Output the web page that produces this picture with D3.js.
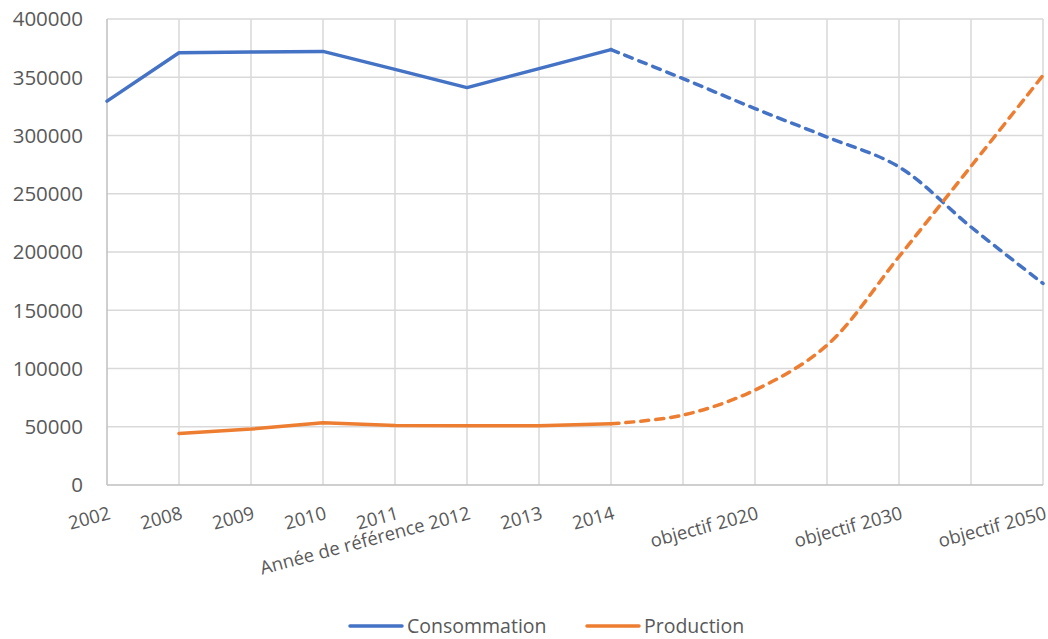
<!DOCTYPE html>
<html>
<head>
<meta charset="utf-8">
<script src="https://cdn.jsdelivr.net/npm/d3@7"></script>
<style>
  body { margin: 0; background: #fff; }
  text { font-family: "Open Sans", sans-serif; fill: #595959; }
</style>
</head>
<body>
<div id="chart"></div>
<script>
// categories (some are left blank in the source)
const categories = ["2002", "2008", "2009", "2010", "2011", "Année de référence 2012", "2013", "2014",
    "", "objectif 2020", "", "objectif 2030", "", "objectif 2050"];

// measured values (index 0..7) then objectives (index 7..13)
const consommation = [329500, 371000, 371700, 372200, 356800, 341100, 357400, 373700,
    348800, 323100, 298700, 273000, 221500, 173000];
const production = [null, 44300, 48000, 53400, 51000, 50900, 50900, 52600,
    60000, 81500, 120000, 196000, 273500, 351600];

const yTicks = [0, 50000, 100000, 150000, 200000, 250000, 300000, 350000, 400000];
const lastMeasured = 7; // 2014

const W = 1048, H = 639;
const margin = {top: 19, right: 5, bottom: 154, left: 107},
    width = W - margin.left - margin.right,
    height = H - margin.top - margin.bottom;

const svg = d3.select("#chart").append("svg")
    .attr("width", W).attr("height", H)
    .append("g")
    .attr("transform", `translate(${margin.left},${margin.top})`);

const x = d3.scalePoint()
    .domain(d3.range(categories.length))
    .range([0, width]);

const y = d3.scaleLinear()
    .domain([0, 400000])
    .range([height, 0]);

// horizontal grid
svg.append("g")
    .selectAll("line")
    .data(yTicks.slice(1))
    .join("line")
    .attr("x1", 0).attr("x2", width)
    .attr("y1", d => y(d)).attr("y2", d => y(d))
    .attr("stroke", "#d9d9d9").attr("stroke-width", 1.5);

// vertical grid
svg.append("g")
    .selectAll("line")
    .data(d3.range(1, categories.length))
    .join("line")
    .attr("x1", d => x(d)).attr("x2", d => x(d))
    .attr("y1", 0).attr("y2", height)
    .attr("stroke", "#d9d9d9").attr("stroke-width", 1.5);

// axis lines
svg.append("line")
    .attr("x1", 0).attr("x2", 0).attr("y1", 0).attr("y2", height)
    .attr("stroke", "#bfbfbf").attr("stroke-width", 1.5);
svg.append("line")
    .attr("x1", 0).attr("x2", width).attr("y1", height).attr("y2", height)
    .attr("stroke", "#bfbfbf").attr("stroke-width", 1.5);

// y axis labels
svg.append("g")
    .selectAll("text")
    .data(yTicks)
    .join("text")
    .attr("x", -24)
    .attr("y", d => y(d))
    .attr("dy", "0.36em")
    .attr("text-anchor", "end")
    .style("font-size", "20.5px")
    .text(d => d);

// x axis labels, rotated
svg.append("g")
    .selectAll("text")
    .data(d3.range(categories.length))
    .join("text")
    .attr("transform", i => `translate(${x(i) + 1},${height + 21}) rotate(-15)`)
    .attr("dy", "0.71em")
    .attr("text-anchor", "end")
    .style("font-size", "18.5px")
    .text(i => categories[i]);

const series = [
    {name: "Consommation", values: consommation, color: "#4472c4"},
    {name: "Production", values: production, color: "#ed7d31"}
];

const solid = d3.line()
    .defined(d => d[1] !== null)
    .x(d => x(d[0])).y(d => y(d[1]));
const dashed = d3.line()
    .x(d => x(d[0])).y(d => y(d[1]))
    .curve(d3.curveCatmullRom);

series.forEach(s => {
    const pts = s.values.map((v, i) => [i, v]);
    svg.append("path")
        .datum(pts.slice(0, lastMeasured + 1))
        .attr("d", solid)
        .attr("fill", "none")
        .attr("stroke", s.color)
        .attr("stroke-width", 3.5)
        .attr("stroke-linejoin", "round")
        .attr("stroke-linecap", "round");
    svg.append("path")
        .datum(pts.slice(lastMeasured))
        .attr("d", dashed)
        .attr("fill", "none")
        .attr("stroke", s.color)
        .attr("stroke-width", 3.5)
        .attr("stroke-dasharray", "8,7")
        .attr("stroke-linecap", "round");
});

// legend
const legend = svg.append("g")
    .attr("transform", `translate(0,${height + 141})`);
const legendX = [243, 480];
series.forEach((s, i) => {
    const g = legend.append("g").attr("transform", `translate(${legendX[i]},0)`);
    g.append("line")
        .attr("x1", 0).attr("x2", 52).attr("y1", 0).attr("y2", 0)
        .attr("stroke", s.color).attr("stroke-width", 3.5)
        .attr("stroke-linecap", "round");
    g.append("text")
        .attr("x", 57).attr("dy", "0.35em")
        .style("font-size", "19.5px")
        .text(s.name);
});
</script>
</body>
</html>
